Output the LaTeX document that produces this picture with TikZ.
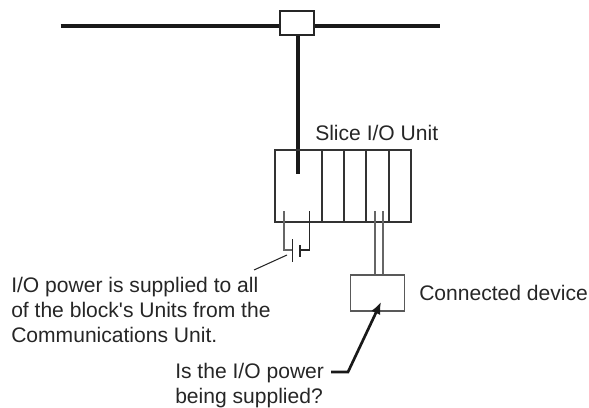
\documentclass[tikz,border=0pt]{standalone}
\usepackage{fontspec}
\setmainfont[Ligatures=NoCommon]{Liberation Sans}
\usetikzlibrary{arrows.meta}
\tikzset{
  busline/.style={line width=3pt, black!90},
  unitline/.style={line width=1.1pt, black!80},
  wireline/.style={line width=0.8pt, black!60},
  inkline/.style={line width=0.8pt, black!85},
  labeltext/.style={font=\fontsize{15.8}{18.75}\selectfont, align=left, inner sep=0pt, text=black!85}
}
\begin{document}
\begin{tikzpicture}[x=0.75pt, y=-0.75pt]
\useasboundingbox (0,0) rectangle (589,407);

% Bus and connector
\coordinate (busleft) at (60.5,25.7);
\coordinate (busright) at (440,25.7);
\coordinate (stub) at (298,174);
\draw[busline] (busleft) -- (busright);
\node[draw=black!85, fill=white, line width=1.5pt, minimum width=25.5pt, minimum height=18pt, inner sep=0pt] (tap) at (296.5,22.5) {};
\draw[busline] (tap.south -| stub) -- (stub);

% Unit block
\coordinate (ul) at (275,150);
\coordinate (br) at (411,222);
\draw[unitline] (ul) rectangle (br);
\foreach \x [count=\i] in {322,344,366,389}{
  \coordinate (dtop\i) at (\x,150);
  \coordinate (dbot\i) at (\x,222);
  \draw[unitline] (dtop\i) -- (dbot\i);
}
\node[labeltext, anchor=base west] (slice) at (315,140) {Slice I/O Unit};

% Power supply
\coordinate (pa) at (284,211);
\coordinate (pb) at (309.5,211);
\coordinate (pc) at (284,250);
\coordinate (pd) at (309.5,250);
\coordinate (long1) at (292.5,239);
\coordinate (long2) at (292.5,262);
\coordinate (short1) at (300,245);
\coordinate (short2) at (300,257);
\draw[wireline] (pa) -- (pc) -- (pc -| long1);
\draw[inkline] (pb) -- (pd) -- (pd -| short1);
\draw[inkline] (long1) -- (long2);
\draw[inkline, line width=1pt] (short1) -- (short2);
\coordinate (leada) at (287,255);
\coordinate (leadb) at (254,270);
\draw[inkline] (leada) -- (leadb);
\node[labeltext, anchor=north west] (powertext) at (11,277) {I/O power is supplied to all\\of the block\textquotesingle s Units from the\\Communications Unit.};

% Connected device
\node[draw=black!65, line width=0.8pt, minimum width=41pt, minimum height=27pt, inner sep=0pt] (device) at (377.5,293) {};
\coordinate (wa) at (375,211);
\coordinate (wb) at (383,211);
\draw[wireline] (wa) -- (wa |- device.north);
\draw[wireline] (wb) -- (wb |- device.north);
\node[labeltext, anchor=base west] (devtext) at (419,300) {Connected device};

% Question
\node[labeltext, anchor=north west] (asktext) at (175,363) {Is the I/O power\\being supplied?};
\coordinate (askstart) at (331,372);
\coordinate (askbend) at (348,372);
\coordinate (asktip) at (381,302);
\draw[line width=2pt, black!90, -{Latex[length=9pt,width=7.5pt]}] (askstart) -- (askbend) -- (asktip);

\end{tikzpicture}
\end{document}
